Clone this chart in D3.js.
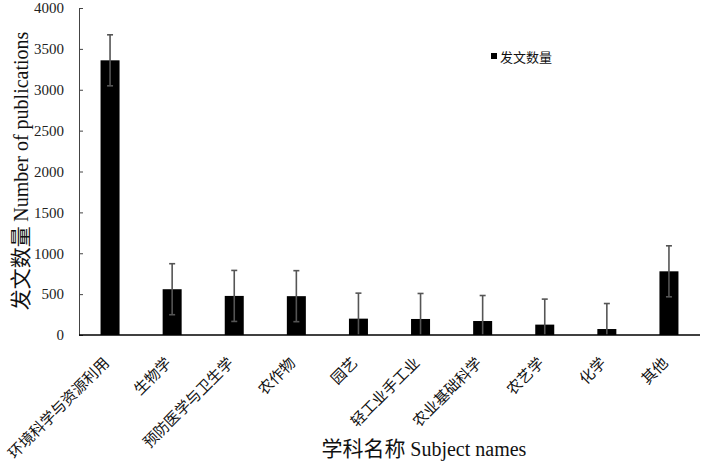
<!DOCTYPE html>
<html><head><meta charset="utf-8">
<script src="https://cdn.jsdelivr.net/npm/d3@7"></script>
<style>body{margin:0;background:#fff}</style>
</head><body>
<svg id="c" width="701" height="465"></svg>
<script>
const categories = ["环境科学与资源利用","生物学","预防医学与卫生学","农作物","园艺","轻工业手工业","农业基础科学","农艺学","化学","其他"];
const values = [3360, 560, 478, 475, 200, 196, 171, 127, 73, 779];
const errors = [312, 312, 312, 312, 312, 312, 312, 312, 312, 312];
const yTicks = [0, 500, 1000, 1500, 2000, 2500, 3000, 3500, 4000];
const seriesName = "发文数量";
const yTitleZh = "发文数量", yTitleEn = "Number of publications";
const xTitleZh = "学科名称", xTitleEn = "Subject names";

(function () {
const CJK = "Noto Sans CJK SC", LAT = "Liberation Serif";
const svg = d3.select("#c");
const mLeft = 79, mRight = 700, mTop = 8, mBottom = 335;
const x = d3.scaleBand().domain(categories).range([mLeft, mRight]).paddingInner(0.694).paddingOuter(0.347);
const y = d3.scaleLinear().domain([0, 4000]).range([mBottom, mTop]);

// y axis
const ya = svg.append("g").attr("transform", `translate(${mLeft},0)`)
  .call(d3.axisLeft(y).tickValues(yTicks).tickFormat(d3.format("d")).tickSizeInner(-4).tickSizeOuter(0).tickPadding(15));
ya.select(".domain").attr("stroke", "#444").attr("stroke-width", 1);
ya.selectAll(".tick line").attr("stroke", "#444");
ya.selectAll(".tick text").attr("font-size", 15).attr("fill", "#222").attr("font-family", LAT);

// bars
svg.append("g").selectAll("rect").data(values).join("rect")
  .attr("x", (d, i) => x(categories[i]))
  .attr("width", x.bandwidth())
  .attr("y", d => y(d))
  .attr("height", d => y(0) - y(d))
  .attr("fill", "#000");

// error bars
const eg = svg.append("g").attr("stroke", "#555").attr("stroke-width", 1.6);
values.forEach((v, i) => {
  const cx = x(categories[i]) + x.bandwidth() / 2;
  const lo = Math.max(0, v - errors[i]), hi = v + errors[i];
  eg.append("line").attr("x1", cx).attr("x2", cx).attr("y1", y(lo)).attr("y2", y(hi));
  eg.append("line").attr("x1", cx - 3).attr("x2", cx + 3).attr("y1", y(hi)).attr("y2", y(hi));
  if (v - errors[i] > 0) eg.append("line").attr("x1", cx - 3).attr("x2", cx + 3).attr("y1", y(lo)).attr("y2", y(lo));
});

// x axis
const xa = svg.append("g").attr("transform", `translate(0,${mBottom})`)
  .call(d3.axisBottom(x).tickSize(0).tickPadding(0));
xa.select(".domain").attr("stroke", "#000").attr("stroke-width", 1.6).attr("d", `M${mLeft},0H${mRight}`);
xa.selectAll(".tick text")
  .attr("font-size", 15).attr("fill", "#111").attr("font-family", CJK)
  .attr("text-anchor", "end")
  .attr("x", 0).attr("y", 0).attr("dy", 0)
  .attr("transform", "translate(0,29) rotate(-45)");

// axis titles
const yt = svg.append("text").attr("transform", `translate(28,171) rotate(-90)`)
  .attr("text-anchor", "middle").attr("font-size", 20).attr("fill", "#111");
yt.append("tspan").attr("font-family", CJK).attr("font-size", 21).text(yTitleZh + " ");
yt.append("tspan").attr("font-family", LAT).text(" " + yTitleEn);

const xt = svg.append("text").attr("x", 424).attr("y", 456)
  .attr("text-anchor", "middle").attr("font-size", 20).attr("fill", "#111");
xt.append("tspan").attr("font-family", CJK).attr("font-size", 21).text(xTitleZh + " ");
xt.append("tspan").attr("font-family", LAT).text(" " + xTitleEn);

// legend
svg.append("rect").attr("x", 491).attr("y", 53).attr("width", 6).attr("height", 6).attr("fill", "#000");
svg.append("text").attr("x", 500).attr("y", 62).attr("font-size", 13).attr("font-family", CJK).attr("fill", "#111").text(seriesName);
})();
</script>
</body></html>
